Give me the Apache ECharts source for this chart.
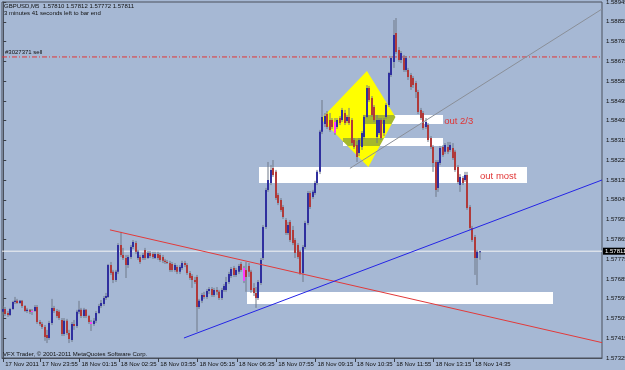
<!DOCTYPE html>
<html><head><meta charset="utf-8">
<script src="https://cdn.jsdelivr.net/npm/echarts/dist/echarts.min.js"></script>
<style>html,body{margin:0;padding:0;background:#a6b8d4;}#c{width:625px;height:370px;}</style>
</head><body><div id="c"></div>
<script>
// ---- data ----
const open = [1.57535,1.57548,1.57530,1.57521,1.57548,1.57580,1.57585,1.57575,1.57585,1.57562,
1.57539,1.57544,1.57539,1.57539,1.57557,1.57489,1.57480,1.57466,1.57430,1.57416,
1.57484,1.57553,1.57539,1.57535,1.57498,1.57434,1.57494,1.57439,1.57407,1.57480,
1.57471,1.57535,1.57544,1.57516,1.57544,1.57516,1.57489,1.57480,1.57494,1.57530,
1.57562,1.57571,1.57598,1.57603,1.57748,1.57717,1.57680,1.57717,1.57839,1.57794,
1.57780,1.57748,1.57785,1.57830,1.57848,1.57780,1.57785,1.57780,1.57817,1.57780,
1.57803,1.57798,1.57780,1.57798,1.57794,1.57785,1.57767,1.57762,1.57757,1.57753,
1.57726,1.57739,1.57717,1.57735,1.57757,1.57748,1.57712,1.57698,1.57680,1.57694,
1.57557,1.57585,1.57612,1.57603,1.57630,1.57639,1.57612,1.57635,1.57626,1.57598,
1.57635,1.57635,1.57671,1.57698,1.57735,1.57703,1.57717,1.57753,1.57735,1.57726,
1.57744,1.57717,1.57644,1.57621,1.57598,1.57666,1.57780,1.57921,1.58090,1.58121,
1.58190,1.58172,1.58067,1.58044,1.58012,1.57953,1.57894,1.57944,1.57908,1.57862,
1.57839,1.57808,1.57712,1.57830,1.57939,1.58076,1.58058,1.58076,1.58121,1.58172,
1.58354,1.58390,1.58435,1.58408,1.58408,1.58399,1.58376,1.58417,1.58408,1.58440,
1.58404,1.58422,1.58408,1.58317,1.58294,1.58258,1.58285,1.58331,1.58422,1.58554,
1.58508,1.58467,1.58331,1.58349,1.58408,1.58349,1.58422,1.58476,1.58613,1.58672,
1.58804,1.58727,1.58681,1.58690,1.58636,1.58636,1.58613,1.58599,1.58576,1.58536,
1.58454,1.58440,1.58376,1.58385,1.58326,1.58285,1.58217,1.58099,1.58212,1.58285,
1.58263,1.58285,1.58272,1.58281,1.58263,1.58194,1.58112,1.58144,1.58135,1.58158,
1.58012,1.57917,1.57876,1.57780,1.57810];
const close = [1.57548,1.57525,1.57521,1.57548,1.57580,1.57585,1.57575,1.57585,1.57562,1.57539,
1.57544,1.57535,1.57539,1.57557,1.57489,1.57480,1.57466,1.57421,1.57416,1.57484,
1.57553,1.57539,1.57516,1.57507,1.57434,1.57494,1.57439,1.57412,1.57480,1.57471,
1.57535,1.57544,1.57516,1.57544,1.57516,1.57489,1.57480,1.57494,1.57530,1.57562,
1.57575,1.57598,1.57607,1.57748,1.57712,1.57680,1.57717,1.57839,1.57794,1.57780,
1.57748,1.57785,1.57830,1.57853,1.57808,1.57808,1.57762,1.57794,1.57780,1.57803,
1.57789,1.57785,1.57798,1.57780,1.57771,1.57767,1.57762,1.57757,1.57726,1.57726,
1.57748,1.57717,1.57739,1.57757,1.57748,1.57712,1.57689,1.57680,1.57671,1.57557,
1.57585,1.57612,1.57603,1.57630,1.57639,1.57612,1.57635,1.57626,1.57598,1.57635,
1.57653,1.57671,1.57707,1.57730,1.57703,1.57726,1.57744,1.57726,1.57676,1.57694,
1.57717,1.57635,1.57621,1.57598,1.57671,1.57771,1.57921,1.58090,1.58135,1.58181,
1.58158,1.58053,1.58030,1.57999,1.57967,1.57894,1.57930,1.57862,1.57848,1.57803,
1.57785,1.57712,1.57830,1.57939,1.58076,1.58012,1.58081,1.58121,1.58172,1.58354,
1.58422,1.58426,1.58376,1.58363,1.58376,1.58349,1.58408,1.58394,1.58454,1.58394,
1.58422,1.58394,1.58303,1.58285,1.58240,1.58317,1.58349,1.58422,1.58554,1.58499,
1.58431,1.58408,1.58408,1.58408,1.58326,1.58408,1.58476,1.58622,1.58690,1.58795,
1.58718,1.58681,1.58713,1.58636,1.58690,1.58604,1.58558,1.58567,1.58536,1.58445,
1.58417,1.58372,1.58399,1.58317,1.58285,1.58212,1.58090,1.58217,1.58281,1.58249,
1.58294,1.58263,1.58294,1.58235,1.58181,1.58126,1.58149,1.58121,1.58158,1.58008,
1.57917,1.57862,1.57780,1.57808,1.57811];
const low = [1.57521,1.57516,1.57512,1.57516,1.57544,1.57571,1.57571,1.57571,1.57553,1.57535,
1.57530,1.57525,1.57521,1.57535,1.57480,1.57471,1.57457,1.57403,1.57393,1.57407,
1.57475,1.57530,1.57507,1.57498,1.57425,1.57425,1.57430,1.57393,1.57398,1.57453,
1.57462,1.57525,1.57507,1.57507,1.57507,1.57480,1.57448,1.57471,1.57484,1.57525,
1.57553,1.57562,1.57589,1.57598,1.57703,1.57666,1.57671,1.57707,1.57785,1.57771,
1.57689,1.57735,1.57776,1.57821,1.57798,1.57771,1.57753,1.57771,1.57771,1.57776,
1.57780,1.57776,1.57776,1.57771,1.57762,1.57757,1.57753,1.57753,1.57717,1.57717,
1.57717,1.57707,1.57707,1.57726,1.57739,1.57703,1.57680,1.57644,1.57662,1.57444,
1.57548,1.57575,1.57594,1.57594,1.57616,1.57603,1.57603,1.57612,1.57589,1.57589,
1.57626,1.57626,1.57662,1.57689,1.57694,1.57694,1.57707,1.57717,1.57666,1.57626,
1.57694,1.57621,1.57607,1.57553,1.57589,1.57657,1.57771,1.57912,1.58081,1.58112,
1.58149,1.58044,1.58021,1.57990,1.57958,1.57885,1.57885,1.57853,1.57839,1.57780,
1.57776,1.57703,1.57671,1.57821,1.57930,1.58003,1.58049,1.58067,1.58112,1.58162,
1.58344,1.58376,1.58367,1.58354,1.58367,1.58340,1.58367,1.58385,1.58399,1.58385,
1.58394,1.58385,1.58294,1.58276,1.58217,1.58244,1.58272,1.58322,1.58417,1.58490,
1.58422,1.58399,1.58303,1.58340,1.58317,1.58335,1.58413,1.58467,1.58604,1.58645,
1.58708,1.58672,1.58667,1.58627,1.58627,1.58590,1.58545,1.58554,1.58508,1.58435,
1.58408,1.58363,1.58367,1.58308,1.58276,1.58172,1.58058,1.58081,1.58203,1.58240,
1.58253,1.58253,1.58263,1.58226,1.58172,1.58117,1.58081,1.58112,1.58126,1.57999,
1.57908,1.57853,1.57703,1.57657,1.57772];
const high = [1.57562,1.57557,1.57539,1.57553,1.57585,1.57603,1.57594,1.57589,1.57589,1.57566,
1.57553,1.57548,1.57548,1.57566,1.57566,1.57498,1.57489,1.57475,1.57453,1.57494,
1.57594,1.57562,1.57548,1.57544,1.57507,1.57507,1.57503,1.57453,1.57489,1.57498,
1.57544,1.57585,1.57553,1.57553,1.57548,1.57521,1.57498,1.57507,1.57539,1.57571,
1.57589,1.57607,1.57621,1.57753,1.57762,1.57726,1.57726,1.57848,1.57899,1.57826,
1.57794,1.57794,1.57839,1.57862,1.57858,1.57817,1.57794,1.57803,1.57826,1.57812,
1.57812,1.57808,1.57808,1.57808,1.57803,1.57794,1.57776,1.57771,1.57767,1.57762,
1.57757,1.57748,1.57748,1.57767,1.57767,1.57757,1.57721,1.57707,1.57694,1.57703,
1.57594,1.57621,1.57626,1.57639,1.57648,1.57648,1.57644,1.57648,1.57635,1.57644,
1.57662,1.57694,1.57717,1.57739,1.57744,1.57735,1.57753,1.57762,1.57744,1.57762,
1.57757,1.57726,1.57666,1.57648,1.57680,1.57780,1.57930,1.58099,1.58217,1.58203,
1.58226,1.58181,1.58076,1.58053,1.58021,1.57962,1.57944,1.57953,1.57926,1.57871,
1.57848,1.57817,1.57839,1.57949,1.58085,1.58085,1.58090,1.58131,1.58181,1.58363,
1.58499,1.58440,1.58449,1.58440,1.58417,1.58417,1.58417,1.58426,1.58463,1.58454,
1.58431,1.58463,1.58417,1.58326,1.58313,1.58326,1.58358,1.58431,1.58567,1.58563,
1.58517,1.58476,1.58431,1.58417,1.58417,1.58417,1.58485,1.58627,1.58699,1.58863,
1.58872,1.58740,1.58722,1.58704,1.58699,1.58645,1.58622,1.58608,1.58586,1.58545,
1.58463,1.58449,1.58417,1.58394,1.58335,1.58294,1.58226,1.58226,1.58290,1.58294,
1.58303,1.58308,1.58308,1.58303,1.58272,1.58203,1.58162,1.58153,1.58172,1.58172,
1.58021,1.57926,1.57885,1.57817,1.57812];
const pinkBars = [12, 36, 98, 135];

const xTickIndex  = [0, 15, 31, 47, 63, 79, 95, 111, 127, 143, 159, 175, 191];
const xTickLabels = ['17 Nov 2011','17 Nov 23:55','18 Nov 01:15','18 Nov 02:35','18 Nov 03:55','18 Nov 05:15',
  '18 Nov 06:35','18 Nov 07:55','18 Nov 09:15','18 Nov 10:35','18 Nov 11:55','18 Nov 13:15','18 Nov 14:35'];

const yMin = 1.57325, yMax = 1.58945, yStep = 0.0009;
const lastPrice = 1.57811;
const sellPrice = 1.58695;
const sellLabel = '#3027371 sell';

// trend lines (x in bar units, y in price)
const redLine  = [[43.4, 1.57908], [243.5, 1.57395]];
const blueLine = [[73.5, 1.57416], [243.5, 1.58135]];
const grayLine = [[141.0, 1.58188], [243.5, 1.58913]];

// rectangles: x from, x to, price top, price bottom
const rectX1  = [104.1, 146.3, 138.2, 99.1];
const rectX2  = [213.1, 178.8, 178.8, 223.6];
const rectTop = [1.58193, 1.58431, 1.58325, 1.57627];
const rectBot = [1.58123, 1.58390, 1.58290, 1.57571];

// diamond
const diamondX = [147.9, 159.5, 148.5, 129.2];
const diamondP = [1.58631, 1.58422, 1.58194, 1.58413];

// text notes
const noteX = [179.3, 193.9];
const noteP = [1.58404, 1.58153];
const noteText = ['out 2/3', 'out most'];

// ---- build ----
const NCAT = 244;
const NBARS = open.length;
const categories = [];
for (let i = 0; i < NCAT; i++) {
  if (i < NBARS) {
    const t = 22 * 60 + 40 + 5 * i;
    const day = 17 + Math.floor(t / 1440);
    const m = t % 1440;
    const hh = String(Math.floor(m / 60)).padStart(2, '0');
    const mm = String(m % 60).padStart(2, '0');
    categories.push(day + ' Nov ' + hh + ':' + mm);
  } else categories.push('_' + i);
}
const labelMap = {};
xTickIndex.forEach((k, j) => labelMap[k] = xTickLabels[j]);
const pinkSet = new Set(pinkBars);

const candleData = open.map((o, i) => [i, o, close[i], low[i], high[i]]);

const FONT = '"Liberation Sans", Arial, sans-serif';
const BG = '#a6b8d4';
const OLIVE = '#a6b82b';

function clipPoly(pts, x0, x1, y0, y1) {
  const edges = [
    [p => p[0] >= x0, (a, b) => { const t = (x0 - a[0]) / (b[0] - a[0]); return [x0, a[1] + t * (b[1] - a[1])]; }],
    [p => p[0] <= x1, (a, b) => { const t = (x1 - a[0]) / (b[0] - a[0]); return [x1, a[1] + t * (b[1] - a[1])]; }],
    [p => p[1] >= y0, (a, b) => { const t = (y0 - a[1]) / (b[1] - a[1]); return [a[0] + t * (b[0] - a[0]), y0]; }],
    [p => p[1] <= y1, (a, b) => { const t = (y1 - a[1]) / (b[1] - a[1]); return [a[0] + t * (b[0] - a[0]), y1]; }]
  ];
  let out = pts;
  for (const [inside, inter] of edges) {
    const inp = out; out = [];
    for (let i = 0; i < inp.length; i++) {
      const cur = inp[i], prev = inp[(i + inp.length - 1) % inp.length];
      if (inside(cur)) { if (!inside(prev)) out.push(inter(prev, cur)); out.push(cur); }
      else if (inside(prev)) out.push(inter(prev, cur));
    }
    if (!out.length) break;
  }
  return out;
}

const chart = echarts.init(document.getElementById('c'), null, { renderer: 'canvas' });
const txt = { fontSize: 6, fontWeight: 'normal', color: '#101010', fontFamily: FONT };

chart.setOption({
  animation: false,
  backgroundColor: BG,
  title: [
    { text: 'GBPUSD,M5  1.57810 1.57812 1.57772 1.57811', left: 4, top: 3, padding: 0, textStyle: txt },
    { text: '3 minutes 41 seconds left to bar end', left: 4, top: 10, padding: 0, textStyle: txt },
    { text: 'VFX Trader, \u00a9 2001-2011 MetaQuotes Software Corp.', left: 3, top: 351, padding: 0, textStyle: txt }
  ],
  grid: { left: 2, right: 23, top: 2, bottom: 12, containLabel: false, outerBoundsMode: 'none',
    show: true, borderColor: '#4a505c', borderWidth: 1, backgroundColor: 'transparent' },
  xAxis: [
    {
      type: 'category', data: categories, boundaryGap: true,
      axisLine: { show: true, lineStyle: { color: '#4a505c', width: 1 } },
      axisTick: { show: true, alignWithLabel: true, length: 4, interval: (i) => labelMap[i] !== undefined, lineStyle: { color: '#3a3f48' } },
      axisLabel: { show: true, interval: (i) => labelMap[i] !== undefined, formatter: (v, i) => labelMap[i] || '',
        align: 'left', margin: 3, padding: [0, 0, 0, 2], fontSize: 6, color: '#101010', fontFamily: FONT },
      splitLine: { show: false }
    },
    { type: 'value', min: -0.5, max: NCAT - 0.5, show: false, splitLine: { show: false } }
  ],
  yAxis: [{
    type: 'value', position: 'right', min: yMin, max: yMax, interval: yStep, scale: true,
    axisLine: { show: true, lineStyle: { color: '#4a505c', width: 1 } },
    axisTick: { show: true, length: 3, lineStyle: { color: '#3a3f48' } },
    axisLabel: { show: true, margin: 4, fontSize: 6, color: '#101010', fontFamily: FONT,
      showMinLabel: true, showMaxLabel: true, formatter: v => v.toFixed(5) },
    splitLine: { show: false }
  }],
  series: [
    { // diamond
      type: 'custom', xAxisIndex: 1, yAxisIndex: 0, z: 1, silent: true,
      data: [[diamondX[0], diamondP[0]]],
      renderItem: (params, api) => {
        const pts = diamondX.map((x, k) => api.coord([x, diamondP[k]]));
        return { type: 'polygon', shape: { points: pts }, style: { fill: '#ffff00', stroke: null } };
      }
    },
    { // rectangles (+ overlap with diamond)
      type: 'custom', xAxisIndex: 1, yAxisIndex: 0, z: 1, silent: true,
      data: rectX1.map((x, k) => [x, rectX2[k], rectTop[k], rectBot[k]]),
      encode: { x: [0, 1], y: [2, 3] },
      renderItem: (params, api) => {
        const a = api.coord([api.value(0), api.value(2)]);
        const b = api.coord([api.value(1), api.value(3)]);
        const x0 = Math.round(Math.min(a[0], b[0])), x1 = Math.round(Math.max(a[0], b[0]));
        const y0 = Math.round(Math.min(a[1], b[1])), y1 = Math.round(Math.max(a[1], b[1]));
        const dia = diamondX.map((x, k) => api.coord([x, diamondP[k]]));
        const ov = clipPoly(dia, x0, x1, y0, y1);
        const ch = [{ type: 'rect', shape: { x: x0, y: y0, width: x1 - x0, height: y1 - y0 }, style: { fill: '#ffffff' } }];
        if (ov.length > 2) ch.push({ type: 'polygon', shape: { points: ov }, style: { fill: OLIVE } });
        return { type: 'group', children: ch };
      }
    },
    { // current price line
      type: 'line', xAxisIndex: 1, yAxisIndex: 0, z: 1, silent: true, symbol: 'none',
      data: [[-0.5, lastPrice], [NCAT - 0.5, lastPrice]],
      lineStyle: { color: '#f4f4f4', width: 1 },
      endLabel: { show: true, distance: 1, formatter: () => lastPrice.toFixed(5), color: '#ffffff', backgroundColor: '#000000',
        padding: [1, 2, 0, 2], fontSize: 6, fontFamily: FONT }
    },
    { // sell order line
      type: 'line', xAxisIndex: 1, yAxisIndex: 0, z: 1, silent: true, symbol: 'none',
      data: [[-0.5, sellPrice], [NCAT - 0.5, sellPrice]],
      lineStyle: { color: '#e03636', width: 1, type: [5, 2, 1, 2] }
    },
    { // candles
      type: 'custom', xAxisIndex: 0, yAxisIndex: 0, z: 2, silent: true,
      data: candleData,
      encode: { x: 0, y: [1, 2, 3, 4] },
      renderItem: (params, api) => {
        const i = api.value(0), o = api.value(1), c = api.value(2), l = api.value(3), h = api.value(4);
        const pO = api.coord([i, o]), pC = api.coord([i, c]), pL = api.coord([i, l]), pH = api.coord([i, h]);
        const x = Math.floor(pO[0] - 1);
        const top = Math.min(pO[1], pC[1]), bot = Math.max(pO[1], pC[1]);
        const bh = Math.max(1, bot - top);
        let col = c >= o ? '#2f2f9e' : '#b03a3a';
        if (pinkSet.has(i)) col = '#ff3cff';
        return { type: 'group', children: [
          { type: 'line', shape: { x1: x + 1, y1: pH[1], x2: x + 1, y2: pL[1] }, style: { stroke: '#6f7888', lineWidth: 1 } },
          { type: 'rect', shape: { x: x, y: top, width: 2, height: bh }, style: { fill: col } }
        ] };
      }
    },
    { type: 'line', xAxisIndex: 1, yAxisIndex: 0, z: 3, data: redLine, symbol: 'none', silent: true,
      lineStyle: { color: '#e23a3a', width: 1 } },
    { type: 'line', xAxisIndex: 1, yAxisIndex: 0, z: 3, data: blueLine, symbol: 'none', silent: true,
      lineStyle: { color: '#2424e6', width: 1 } },
    { type: 'line', xAxisIndex: 1, yAxisIndex: 0, z: 3, data: grayLine, symbol: 'none', silent: true,
      lineStyle: { color: '#8a8f98', width: 1 } },
    { // notes
      type: 'custom', xAxisIndex: 1, yAxisIndex: 0, z: 4, silent: true,
      data: noteX.map((x, k) => [x, noteP[k], k]),
      renderItem: (params, api) => {
        const p = api.coord([api.value(0), api.value(1)]);
        return { type: 'text', x: p[0], y: p[1], style: { text: noteText[api.value(2)], fill: '#e03434',
          font: '9.5px ' + FONT, textAlign: 'left', textVerticalAlign: 'middle' } };
      }
    },
    { // sell line label
      type: 'custom', xAxisIndex: 1, yAxisIndex: 0, z: 4, silent: true,
      data: [[-0.5, sellPrice]],
      renderItem: (params, api) => {
        const p = api.coord([api.value(0), api.value(1)]);
        return { type: 'text', x: p[0] + 3, y: p[1] - 2, style: { text: sellLabel, fill: '#101010',
          font: '6px ' + FONT, textAlign: 'left', textVerticalAlign: 'bottom' } };
      }
    }
  ]
});
</script></body></html>
